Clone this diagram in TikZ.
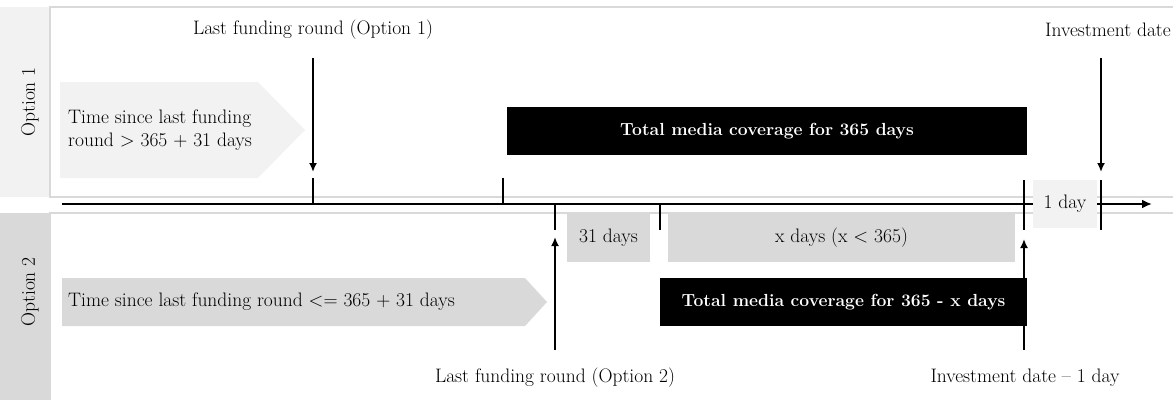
\documentclass[tikz,border=0pt]{standalone}
\usetikzlibrary{arrows.meta}
\definecolor{paleGrey}{HTML}{F2F2F2}
\definecolor{midGrey}{HTML}{D9D9D9}
\begin{document}
\begin{tikzpicture}[
    x=1pt, y=-1pt,
    font=\fontsize{19.5}{23}\selectfont,
    panel/.style={draw=midGrey, line width=1.2pt},
    optlabel/.style={rotate=90, inner sep=0pt},
    label/.style={inner sep=0pt},
    tick/.style={line width=2.6pt},
    pointer/.style={line width=2.2pt, -{Latex[length=9pt, width=8pt]}},
    greybox/.style={rectangle, fill=midGrey, minimum height=49, inner sep=0pt},
    palebox/.style={rectangle, fill=paleGrey, minimum height=48, inner sep=0pt},
    mediabox/.style={rectangle, fill=black, text=white, font=\fontsize{17.5}{21}\selectfont\bfseries, minimum height=48, inner sep=0pt},
    chevron/.style={inner sep=0pt, anchor=west, align=left}
]
\useasboundingbox (0,0) rectangle (1173,400);

% Panels
\fill[paleGrey] (0,7) rectangle (50,197);
\draw[panel] (1173,7) -- (50,7) -- (50,197) -- (1173,197);
\node[optlabel] (opt-1) at (30,102) {Option 1};

\fill[midGrey] (0,213) rectangle (50,400);
\draw[panel] (1173,213) -- (50,213) -- (50,400);
\node[optlabel] (opt-2) at (30,292) {Option 2};

% Chevrons
\fill[paleGrey] (60,82) -- (258,82) -- (305,130) -- (258,178) -- (60,178) -- cycle;
\node[chevron] (since-1) at (68,130) {Time since last funding\\round > 365 + 31 days};

\fill[midGrey] (62,278) -- (525,278) -- (547,302) -- (525,326) -- (62,326) -- cycle;
\node[chevron] (since-2) at (68,302) {Time since last funding round <= 365 + 31 days};

% Timeline
\coordinate (tl-start) at (62,204);
\coordinate (tl-end) at (1152,204);
\draw[tick, -{Latex[length=10pt, width=9pt]}] (tl-start) -- (tl-end);

\foreach \x in {313, 503}
    \draw[tick] (\x,178) -- (\x,204);
\foreach \x in {555, 660}
    \draw[tick] (\x,204) -- (\x,230);
\foreach \x in {1024, 1101}
    \draw[tick] (\x,180) -- (\x,230);

% Boxes
\node[mediabox, minimum width=520] (media-1) at (767,131) {Total media coverage for 365 days};
\node[mediabox, minimum width=367] (media-2) at (843.5,302) {Total media coverage for 365 - x days};
\node[greybox, minimum width=83] (days-31) at (608.5,237.5) {31 days};
\node[greybox, minimum width=347] (days-x) at (841.5,237.5) {x days (x < 365)};
\node[palebox, minimum width=64] (day-1) at (1065,204) {1 day};

% Labels and pointers
\node[label] (last-1) at (313,30) {Last funding round (Option 1)};
\node[label, anchor=east] (invest) at (1171,30) {Investment date};
\node[label] (last-2) at (555,378) {Last funding round (Option 2)};
\node[label] (invest-1) at (1025,378) {Investment date -- 1 day};

\coordinate (p1-from) at (313,58);
\coordinate (p1-to) at (313,172);
\coordinate (p2-from) at (1101,58);
\coordinate (p2-to) at (1101,172);
\coordinate (p3-from) at (555,350);
\coordinate (p3-to) at (555,237);
\coordinate (p4-from) at (1024,350);
\coordinate (p4-to) at (1024,239);

\foreach \p in {1,...,4}
    \draw[pointer] (p\p-from) -- (p\p-to);

\end{tikzpicture}
\end{document}
